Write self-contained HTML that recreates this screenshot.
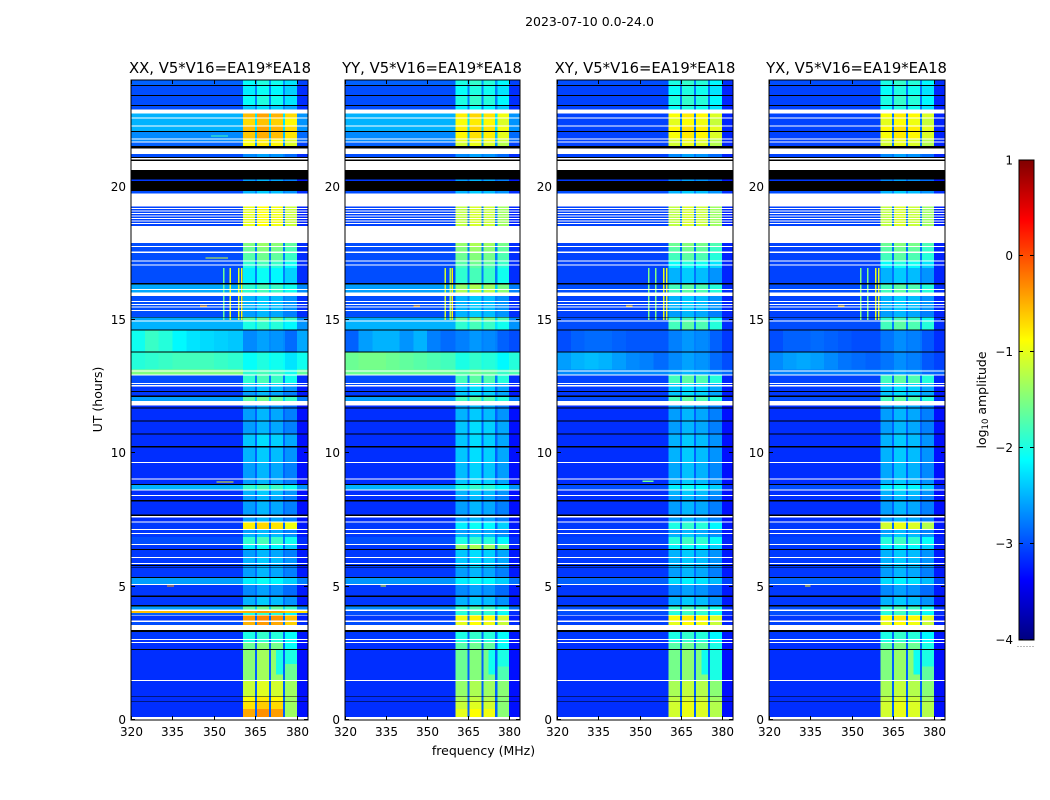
<!DOCTYPE html>
<html lang="en">
<head>
<meta charset="utf-8">
<title>2023-07-10 spectrograms</title>
<style>
html,body{margin:0;padding:0;background:#fff;}
svg{display:block;}
text{font-family:"DejaVu Sans","Liberation Sans",sans-serif;fill:#000;}
</style>
</head>
<body>
<svg id="figure" xmlns="http://www.w3.org/2000/svg" width="1050" height="800" viewBox="0 0 1050 800">
<text x="589.5" y="26" font-size="12.5" text-anchor="middle">2023-07-10 0.0-24.0</text>
<text x="483.5" y="755" font-size="12.5" text-anchor="middle">frequency (MHz)</text>
<text x="0" y="0" font-size="12.5" text-anchor="middle" transform="translate(102,399.5) rotate(-90)">UT (hours)</text>
<text x="0" y="0" font-size="12.5" text-anchor="middle" transform="translate(986,400) rotate(-90)">log<tspan font-size="8.5" dy="2">10</tspan><tspan dy="-2"> amplitude</tspan></text>
</svg>
<script>
// Row boundaries (UT hours) and row state: d = data, w = no data (white), k = below range (black)
const utEdges=[0,
0.12,0.41,0.69,0.72,0.86,0.89,1.46,1.50,2.63,2.66,
2.89,2.93,3.00,3.04,3.30,3.375,3.56,3.67,3.73,3.91,
3.94,4.01,4.09,4.14,4.26,4.32,4.61,4.67,5.06,5.10,
5.33,5.36,5.70,5.72,5.78,5.81,5.85,5.89,6.08,6.11,
6.38,6.41,6.56,6.60,6.86,6.98,7.01,7.13,7.16,7.40,
7.44,7.59,7.65,7.71,8.19,8.25,8.40,8.44,8.60,8.65,
8.81,8.85,9.02,9.06,9.64,9.68,10.22,10.28,10.71,10.74,
11.19,11.23,11.68,11.72,11.80,11.97,12.12,12.16,12.30,12.34,
12.51,12.56,12.60,12.64,12.91,12.96,13.06,13.10,13.15,13.79,
13.82,14.60,14.65,14.94,14.98,15.09,15.12,15.34,15.38,15.46,
15.50,15.57,15.60,15.67,15.71,15.90,16.03,16.13,16.16,16.33,
16.39,16.95,17.04,17.09,17.19,17.24,17.52,17.57,17.74,17.78,
17.89,18.53,18.595,18.63,18.69,18.725,18.785,18.82,18.88,18.915,
18.975,19.01,19.07,19.105,19.165,19.20,19.26,19.74,19.83,20.21,
20.27,20.63,20.97,21.01,21.08,21.12,21.23,21.43,21.53,21.65,
21.69,21.76,21.80,22.05,22.08,22.26,22.30,22.55,22.59,22.74,
22.90,23.03,23.06,23.40,23.44,23.78,23.81,24];
const rowState=("wddkdkdwdk"+"dwdwdkwdwd"+"wddwdkdkdw"+"dkdkdkdwdw"+"dkdwddwdwd"+"wdwkdkdwdw"+
"dkdwdwdkdk"+"dkdkdwdkdk"+"dwdwdwdwdd"+"kdkdwdkdwd"+"wdwdwdwdwd"+"kddwdwdwdw"+
"dwdwdwdwdw"+"dwdwdwdwdk"+"dkwkwkdwkd"+"wdwdkdwdwd"+"wdkdkdkd");

// Log10 amplitude of the 320-360 MHz zone on each data row (eight values = one per 5 MHz zone)
const xxLow=[-3.15,-3.15,-3.15,-3.15,-3.15,-3.15,-3.15,-3.1,-3.0,-3.1,
-2.9,-0.55,-2.6,-3.1,-3.1,-2.6,-3.1,-3.1,-3.1,-3.1,
-3.1,-3.1,-3.0,-3.1,-3.1,-3.1,-3.15,-3.15,-3.15,-3.15,
-2.5,-3.15,-3.15,-3.15,-3.15,-3.15,-3.15,-3.15,-2.6,-3.1,
-3.1,-3.0,-3.0,-1.5,-1.5,[-1.95,-1.9,-1.85,-1.8,-1.8,-1.8,-1.85,-1.9],[-2.05,-1.85,-1.95,-2.15,-2.25,-2.3,-2.35,-2.4],-2.5,-2.55,-3.0,
-3.0,-3.0,-3.0,-3.0,-2.55,-2.55,-3.0,-3.0,-3.0,-3.0,
-3.0,-3.0,-3.05,-3.05,-3.05,-3.05,-3.05,-3.05,-3.05,-3.05,
-3.0,-3.1,-3.0,-2.9,-2.7,-2.7,-2.5,-2.5,-2.5,-3.0,-3.0,-3.0,-2.9];
const yyLow=[-3.15,-3.15,-3.15,-3.15,-3.15,-3.15,-3.15,-3.1,-3.0,-3.1,
-3.0,-3.0,-2.7,-3.1,-3.1,-2.65,-3.1,-3.1,-3.1,-3.1,
-3.1,-3.1,-3.0,-3.1,-3.1,-3.1,-3.15,-3.15,-3.15,-3.15,
-2.5,-3.15,-3.15,-3.15,-3.15,-3.15,-3.15,-3.15,-2.6,-3.1,
-3.1,-3.0,-3.0,-1.6,-1.6,[-1.6,-1.55,-1.55,-1.6,-1.65,-1.7,-1.75,-1.8],[-2.9,-2.6,-2.5,-2.5,-2.65,-2.5,-2.75,-2.85],-2.5,-2.55,-3.0,
-3.0,-3.0,-3.0,-3.0,-2.6,-2.6,-3.0,-3.0,-3.0,-3.0,
-3.0,-3.0,-3.05,-3.05,-3.05,-3.05,-3.05,-3.05,-3.05,-3.05,
-3.0,-3.1,-3.0,-2.9,-2.7,-2.7,-2.5,-2.5,-2.5,-3.0,-3.0,-3.0,-2.9];
const xyLow=[-3.15,-3.15,-3.15,-3.15,-3.15,-3.15,-3.15,-3.1,-3.05,-3.1,
-3.0,-3.0,-3.0,-3.1,-3.1,-2.9,-3.1,-3.1,-3.1,-3.1,
-3.1,-3.1,-3.05,-3.1,-3.1,-3.1,-3.15,-3.15,-3.15,-3.15,
-3.0,-3.15,-3.15,-3.15,-3.15,-3.15,-3.15,-3.15,-3.0,-3.1,
-3.1,-3.05,-3.05,-2.7,-2.7,[-2.6,-2.5,-2.45,-2.5,-2.6,-2.7,-2.75,-2.85],[-3.0,-2.9,-2.85,-2.85,-2.9,-2.95,-2.95,-2.95],-3.0,-3.0,-3.05,
-3.05,-3.05,-3.05,-3.05,-3.0,-3.0,-3.05,-3.05,-3.05,-3.05,
-3.05,-3.05,-3.05,-3.05,-3.05,-3.05,-3.05,-3.05,-3.05,-3.05,
-3.0,-3.1,-3.05,-3.05,-3.05,-3.05,-3.05,-3.05,-3.05,-3.05,-3.05,-3.05,-3.0];
const yxLow=[-3.15,-3.15,-3.15,-3.15,-3.15,-3.15,-3.15,-3.1,-3.05,-3.1,
-3.0,-3.0,-3.0,-3.1,-3.1,-2.9,-3.1,-3.1,-3.1,-3.1,
-3.1,-3.1,-3.05,-3.1,-3.1,-3.1,-3.15,-3.15,-3.15,-3.15,
-3.0,-3.15,-3.15,-3.15,-3.15,-3.15,-3.15,-3.15,-3.0,-3.1,
-3.1,-3.05,-3.05,-2.75,-2.75,[-2.7,-2.6,-2.55,-2.6,-2.7,-2.8,-2.85,-2.9],[-3.0,-2.9,-2.9,-2.85,-2.9,-2.95,-3.0,-3.0],-3.0,-3.0,-3.05,
-3.05,-3.05,-3.05,-3.05,-3.0,-3.0,-3.05,-3.05,-3.05,-3.05,
-3.05,-3.05,-3.05,-3.05,-3.05,-3.05,-3.05,-3.05,-3.05,-3.05,
-3.0,-3.1,-3.05,-3.05,-3.05,-3.05,-3.05,-3.05,-3.05,-3.05,-3.05,-3.05,-3.0];

// Log10 amplitude of the 360-380 MHz bright band on each data row
const xxBand=[-0.45,-0.75,-0.9,-1.15,-1.45,-1.6,-2.0,-2.0,-0.5,-0.4,
-2.0,-0.5,-1.7,-2.5,-2.7,-2.2,-2.6,-2.6,-2.6,-2.5,
-2.6,-2.2,-1.9,-2.5,-2.6,-0.8,-2.6,-2.6,-2.6,-2.5,
-1.9,-2.6,-2.6,-2.5,-2.4,-2.6,-2.6,-2.7,-1.7,-2.6,
-2.5,-2.4,-1.9,-1.9,-1.9,-2.1,-2.7,-2.0,-1.7,-2.6,
-2.5,-2.5,-2.5,-2.5,-1.9,-1.9,-2.2,-2.0,-1.9,-1.7,
-1.6,-1.5,-1.0,-1.0,-1.0,-1.0,-1.0,-1.0,-1.0,-1.0,
-2.5,-2.6,-2.7,-0.9,-0.9,-0.6,-0.55,-0.7,-0.55,-2.4,-2.1,-2.2,-2.1];
const yyBand=[-1.0,-1.15,-1.3,-1.4,-1.6,-1.7,-2.0,-2.0,-1.0,-0.95,
-2.0,-1.9,-1.9,-2.5,-2.7,-2.2,-2.6,-2.4,-2.5,-2.4,
-2.4,-1.4,-2.0,-2.5,-2.6,-2.2,-2.6,-2.6,-2.6,-2.5,
-2.0,-2.4,-2.45,-2.4,-2.4,-2.4,-2.5,-2.6,-1.8,-2.4,
-2.4,-2.4,-1.8,-1.7,-1.7,-2.0,-2.75,-1.9,-1.6,-2.5,
-2.5,-2.5,-2.5,-2.5,-1.3,-1.4,-1.9,-1.8,-1.7,-1.6,
-1.5,-1.4,-1.2,-1.2,-1.2,-1.2,-1.2,-1.2,-1.2,-1.2,
-2.5,-2.6,-2.7,-1.1,-1.0,-0.85,-0.8,-0.9,-0.8,-2.2,-2.0,-2.1,-2.0];
const xyBand=[-1.1,-1.1,-1.2,-1.3,-1.55,-1.7,-2.0,-2.0,-1.0,-0.9,
-2.0,-1.9,-1.9,-2.5,-2.7,-2.3,-2.6,-2.5,-2.5,-2.5,
-2.5,-2.2,-1.95,-2.5,-2.6,-2.0,-2.6,-2.6,-2.6,-2.5,
-2.2,-2.5,-2.55,-2.5,-2.5,-2.6,-2.6,-2.6,-1.8,-2.4,
-2.4,-2.4,-1.8,-2.6,-2.6,-2.7,-2.75,-1.8,-1.9,-2.6,
-2.5,-2.5,-2.5,-2.5,-1.8,-1.8,-2.5,-2.2,-2.1,-1.8,
-1.7,-1.6,-1.2,-1.2,-1.2,-1.2,-1.2,-1.2,-1.2,-1.2,
-2.5,-2.7,-2.7,-1.1,-1.1,-0.9,-0.85,-1.0,-0.9,-2.1,-2.0,-2.1,-2.0];
const yxBand=[-1.1,-1.1,-1.2,-1.3,-1.5,-1.65,-2.0,-2.0,-1.0,-0.9,
-2.0,-1.9,-1.9,-2.5,-2.7,-2.3,-2.6,-2.5,-2.5,-2.5,
-2.5,-2.2,-1.95,-2.5,-2.6,-1.1,-2.6,-2.6,-2.6,-2.5,
-2.2,-2.5,-2.55,-2.5,-2.5,-2.6,-2.6,-2.6,-1.8,-2.4,
-2.4,-2.4,-1.8,-2.7,-2.7,-2.8,-2.8,-1.8,-1.9,-2.6,
-2.5,-2.5,-2.5,-2.5,-1.8,-1.8,-2.5,-2.2,-2.1,-1.8,
-1.7,-1.6,-1.2,-1.2,-1.2,-1.2,-1.2,-1.2,-1.2,-1.2,
-2.5,-2.7,-2.7,-1.1,-1.1,-0.9,-0.85,-1.0,-0.9,-2.1,-2.0,-2.1,-2.0];

// Frequency zones (MHz)
const lowEdges=[320,325,330,335,340,345,350,355,360.5];
const bandEdges=[360.5,364.8,365.5,369.9,370.6,374.9,375.7,380];
const subBandOffsets=[0,0.12,0.05,-0.15];

// Narrow vertical interference lines
const rfiPanel=[0,0,0,0,1,1,1,2,2,2,2,3,3,3,3];
const rfiFreq=[353.2,355.7,358.6,359.7,356.4,358.2,358.9,353.1,355.7,358.6,359.7,353.1,355.7,358.6,359.7];
const rfiLevel=[-1.6,-1.0,-1.0,-0.9,-1.1,-1.3,-0.8,-1.5,-1.5,-1.0,-1.0,-1.5,-1.5,-1.0,-1.0];
const rfiStart=[15.0,15.0,15.0,15.0,15.0,15.0,15.0,15.0,15.0,15.0,15.0,15.0,15.0,15.0,15.0];
const rfiEnd=[16.95,16.95,16.95,16.95,16.95,16.95,16.95,16.95,16.95,16.95,16.95,16.95,16.95,16.95,16.95];

// Short horizontal interference streaks
const streakPanel=[0,0,0,0,0,1,1,2,2,3,3];
const streakUt=[15.53,8.93,17.33,5.03,21.9,15.53,5.03,15.53,8.95,15.53,5.03];
const streakFrom=[345,351,347,333,349,345,333,345,351,345,333];
const streakTo=[347.5,357,355,335.5,355,347.5,335,347.5,355,347.5,335];
const streakLevel=[-0.4,-1.0,-1.1,-0.4,-1.8,-0.4,-1.0,-0.6,-1.6,-0.6,-0.8];

// Dimmer or brighter patches inside the bright band
const patchPanel=[0,0,0,0,0,1,1,1,1,2,2,3,3];
const patchStart=[0.12,1.46,2.1,1.7,2.66,0.12,2.0,1.7,2.66,1.5,1.7,2.0,1.7];
const patchEnd=[1.46,2.1,2.66,2.66,3.3,1.46,2.66,2.66,3.3,2.9,2.66,2.9,2.66];
const patchFrom=[375.7,375.7,375.7,372.5,375.7,375.7,375.7,372.5,375.7,375.7,372.5,375.7,372.5];
const patchTo=[380,380,380,374.9,380,380,380,374.9,380,380,374.9,380,374.9];
const patchLevel=[-1.35,-1.6,-2.0,-2.0,-2.1,-1.45,-2.0,-2.05,-2.1,-2.0,-2.05,-2.0,-2.05];

// Panels and axes
const panelTitles=["XX, V5*V16=EA19*EA18","YY, V5*V16=EA19*EA18","XY, V5*V16=EA19*EA18","YX, V5*V16=EA19*EA18"];
const panelKeys=["xx","yy","xy","yx"];
const panelLow=[xxLow,yyLow,xyLow,yxLow];
const panelBand=[xxBand,yyBand,xyBand,yxBand];
const xTickLabels=[320,335,350,365,380];
const yTickLabels=[0,5,10,15,20];
const colorbarTicks=[-4,-3,-2,-1,0,1];

const NS="http://www.w3.org/2000/svg";
const fig=document.getElementById("figure");
const panelLefts=[131,345,557,769];
const panelWidths=[177,175,176,176];
const titleCenters=[220,432,645,856.5];
const panelTop=80, panelBottom=720;
const freqMin=320, freqMax=384, utMax=24, cMin=-4, cMax=1;

function yScale(ut){return panelBottom-(ut/utMax)*(panelBottom-panelTop);}
function clip(v){return Math.max(0,Math.min(1,v));}
function jet(level){
  const v=clip((level-cMin)/(cMax-cMin));
  const r=clip(Math.min(4*v-1.5,-4*v+4.5));
  const g=clip(Math.min(4*v-0.5,-4*v+3.5));
  const b=clip(Math.min(4*v+0.5,-4*v+2.5));
  return "rgb("+Math.round(r*255)+","+Math.round(g*255)+","+Math.round(b*255)+")";
}
function makeRect(parent,x,y,w,h,fill){
  const el=document.createElementNS(NS,"rect");
  el.setAttribute("x",x.toFixed(2));
  el.setAttribute("y",y.toFixed(2));
  el.setAttribute("width",w.toFixed(2));
  el.setAttribute("height",h.toFixed(2));
  el.setAttribute("fill",fill);
  parent.appendChild(el);
  return el;
}
function makeLine(parent,x1,y1,x2,y2,color,width){
  const el=document.createElementNS(NS,"line");
  el.setAttribute("x1",x1);
  el.setAttribute("y1",y1);
  el.setAttribute("x2",x2);
  el.setAttribute("y2",y2);
  el.setAttribute("stroke",color||"#000");
  el.setAttribute("stroke-width",width||1);
  parent.appendChild(el);
  return el;
}
function makeText(parent,x,y,content,size,anchor){
  const el=document.createElementNS(NS,"text");
  el.setAttribute("x",x);
  el.setAttribute("y",y);
  el.setAttribute("font-size",size);
  el.setAttribute("text-anchor",anchor);
  el.textContent=content;
  parent.appendChild(el);
  return el;
}

panelKeys.forEach(function(key,p){
  const left=panelLefts[p];
  const panelWidth=panelWidths[p];
  const right=left+panelWidth;
  function xScale(f){return left+(f-freqMin)/(freqMax-freqMin)*panelWidth;}
  const g=document.createElementNS(NS,"g");
  
  
  fig.appendChild(g);

  const title=makeText(g,titleCenters[p],73,panelTitles[p],14.8,"middle");
  
  

  const heat=document.createElementNS(NS,"g");
  
  
  heat.setAttribute("shape-rendering","crispEdges");
  g.appendChild(heat);

  const dataRows=[];
  let d=0;
  for(let i=0;i<rowState.length;i++){
    const yTop=yScale(utEdges[i+1]);
    const yBot=yScale(utEdges[i]);
    const h=yBot-yTop;
    const state=rowState[i];
    if(state!=="d"){
      const cell=makeRect(heat,left,yTop,panelWidth,h,state==="w"?"#fff":"#000");
      
      
      continue;
    }
    const low=panelLow[p][d];
    const band=panelBand[p][d];
    const lows=Array.isArray(low)?low:lowEdges.slice(1).map(function(){return low;});
    const lastLow=lows[lows.length-1];
    dataRows.push({start:utEdges[i],end:utEdges[i+1]});
    for(let z=0;z<lowEdges.length-1;z++){
      const x0=xScale(lowEdges[z]);
      const cell=makeRect(heat,x0,yTop,xScale(lowEdges[z+1])-x0,h,jet(lows[z]));
      
      
    }
    for(let b=0;b<bandEdges.length-1;b++){
      const x0=xScale(bandEdges[b]);
      const isGap=b%2===1;
      const lvl=isGap?Math.min(band,lastLow+0.25):band+subBandOffsets[b/2];
      const cell=makeRect(heat,x0,yTop,xScale(bandEdges[b+1])-x0,h,jet(lvl));
      
      
    }
    const xr=xScale(bandEdges[bandEdges.length-1]);
    const edgeCell=makeRect(heat,xr,yTop,right-xr,h,jet(lastLow-0.15));
    
    
    d++;
  }

  function paintOnData(x,w,u0,u1,level,name){
    dataRows.forEach(function(r){
      const a=Math.max(r.start,u0), b=Math.min(r.end,u1);
      if(b<=a)return;
      const m=makeRect(heat,x,yScale(b),w,yScale(a)-yScale(b),jet(level));
      
      
    });
  }
  patchLevel.forEach(function(level,k){
    if(patchPanel[k]!==p)return;
    const x0=xScale(patchFrom[k]);
    paintOnData(x0,xScale(patchTo[k])-x0,patchStart[k],patchEnd[k],level,"band-patch");
  });
  rfiFreq.forEach(function(f,k){
    if(rfiPanel[k]!==p)return;
    paintOnData(xScale(f),1.5,rfiStart[k],rfiEnd[k],rfiLevel[k],"interference-line");
  });
  streakUt.forEach(function(ut,k){
    if(streakPanel[k]!==p)return;
    const x0=xScale(streakFrom[k]);
    const m=makeRect(heat,x0,yScale(ut)-0.6,xScale(streakTo[k])-x0,1.2,jet(streakLevel[k]));
    
    
  });

  const axes=document.createElementNS(NS,"g");
  
  
  g.appendChild(axes);
  xTickLabels.forEach(function(v){
    const x=Math.round(xScale(v))+0.5;
    makeLine(axes,x,panelBottom,x,panelBottom-4);
    makeLine(axes,x,panelTop,x,panelTop+4);
    const t=makeText(axes,x,736,String(v),12,"middle");
    
    
  });
  yTickLabels.forEach(function(v){
    const y=Math.round(yScale(v))-0.5;
    makeLine(axes,left,y,left+4,y);
    makeLine(axes,right,y,right-4,y);
    const t=makeText(axes,left-5,y+4.5,String(v),12,"end");
    
    
  });
  const frame=makeRect(axes,left,panelTop,panelWidth,panelBottom-panelTop,"none");
  frame.setAttribute("stroke","#000");
  frame.setAttribute("stroke-width","1");
  
  
});

// Colorbar
const cb=document.createElementNS(NS,"g");


fig.appendChild(cb);
const cbLeft=1019, cbWidth=15, cbTop=160, cbBottom=640;
function cbY(level){return cbBottom-(level-cMin)/(cMax-cMin)*(cbBottom-cbTop);}
const cbRamp=document.createElementNS(NS,"g");
cbRamp.setAttribute("shape-rendering","crispEdges");


cb.appendChild(cbRamp);
for(let py=cbTop;py<cbBottom;py++){
  const lvl=cMax-(py+0.5-cbTop)/(cbBottom-cbTop)*(cMax-cMin);
  makeRect(cbRamp,cbLeft,py,cbWidth,1,jet(lvl));
}
colorbarTicks.forEach(function(v){
  const y=Math.round(cbY(v))-0.5+(v===1?0.5:0);
  makeLine(cb,cbLeft,y,cbLeft+4,y);
  makeLine(cb,cbLeft+cbWidth,y,cbLeft+cbWidth-4,y);
  const t=makeText(cb,1013,y+4.5,(v<0?"\u2212":"")+Math.abs(v),12,"end");
  
  
});
const cbFrame=makeRect(cb,cbLeft,cbTop,cbWidth,cbBottom-cbTop,"none");
cbFrame.setAttribute("stroke","#000");
cbFrame.setAttribute("stroke-width","1");


const cbDots=makeLine(cb,1017.5,646.5,1035,646.5,"#777",1);
cbDots.setAttribute("stroke-dasharray","1 2");


</script>
</body>
</html>
